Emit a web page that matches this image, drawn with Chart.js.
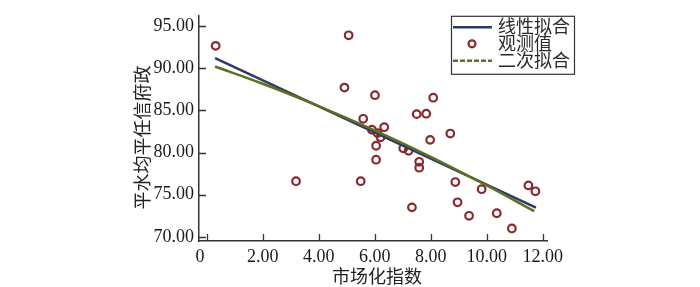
<!DOCTYPE html>
<html><head><meta charset="utf-8">
<script src="https://cdn.jsdelivr.net/npm/chart.js@4/dist/chart.umd.min.js"></script>
<style>html,body{margin:0;padding:0;background:#fff}</style>
</head><body>
<canvas id="c" width="700" height="287"></canvas>
<script>
// observed points (市场化指数, 平水均平任信府政)
const obsX = [0.32, 5.07, 4.92, 6.01, 5.59, 5.90, 6.10, 6.21, 6.34, 6.05, 6.05, 3.19, 5.50, 7.02, 7.21, 7.59, 7.59, 7.33, 7.98, 7.50, 7.84, 8.09, 8.70, 8.88, 9.82, 8.96, 9.37, 10.36, 10.90, 11.49, 11.74];
const obsY = [92.65, 93.90, 87.70, 86.80, 84.00, 82.70, 82.30, 81.80, 83.00, 80.80, 79.15, 76.60, 76.60, 80.50, 80.20, 78.90, 78.20, 73.50, 81.50, 84.55, 84.60, 86.50, 82.25, 76.50, 75.65, 74.10, 72.50, 72.80, 71.00, 76.10, 75.40];
// linear fit line (read endpoints)
const linX = [0.30, 11.76];
const linY = [91.20, 73.47];
// quadratic fit curve (read points)
const quadX = [0.30, 2.0, 4.0, 6.0, 8.0, 10.0, 11.70];
const quadY = [90.20, 88.15, 85.51, 82.62, 79.49, 76.10, 73.05];
// axes
const xTickVals = [0, 2, 4, 6, 8, 10, 12];
const xTickLabels = ['0   ', '2.00', '4.00', '6.00', '8.00', '10.00', '12.00'];
const yTickVals = [70, 75, 80, 85, 90, 95];
const yTickLabels = ['70.00', '75.00', '80.00', '85.00', '90.00', '95.00'];
const seriesNames = ['线性拟合', '观测值', '二次拟合'];
const xTitle = '  市场化指数';
const yTitle = '平水均平任信府政\u3000';

const zip = (xs, ys) => xs.map((x, i) => ({x, y: ys[i]}));
const navy = '#2c3a66', olive = '#5d7020', red = '#8a2a2e', axisCol = '#333';
const cjk = "'Noto Sans CJK SC', sans-serif";
const serif = "'Liberation Serif', serif";

const innerTicks = {
  id: 'innerTicks',
  afterDraw(chart) {
    const {ctx, scales: {x, y}, chartArea: a} = chart;
    ctx.save();
    ctx.strokeStyle = axisCol; ctx.lineWidth = 1.3;
    ctx.beginPath();
    xTickVals.forEach(v => { const p = Math.round(x.getPixelForValue(v)) + 0.5; ctx.moveTo(p, a.bottom); ctx.lineTo(p, a.bottom - 7); });
    yTickVals.forEach(v => { const p = Math.round(y.getPixelForValue(v)) + 0.5; ctx.moveTo(a.left, p); ctx.lineTo(a.left + 7, p); });
    ctx.stroke();
    ctx.restore();
  }
};

const boxLegend = {
  id: 'boxLegend',
  afterDraw(chart) {
    const {ctx, chartArea: a} = chart;
    const ds = chart.data.datasets;
    const L = a.right - 96, T = a.top, W = 123, H = 58;
    ctx.save();
    ctx.fillStyle = '#fff'; ctx.fillRect(L, T, W, H);
    ctx.strokeStyle = axisCol; ctx.lineWidth = 1.2; ctx.strokeRect(L + 0.5, T + 0.5, W, H);
    const rows = [T + 11.5, T + 28, T + 45];
    // row 1: linear
    ctx.strokeStyle = ds[0].borderColor; ctx.lineWidth = 2.5;
    ctx.beginPath(); ctx.moveTo(L + 2, rows[0]); ctx.lineTo(L + 41, rows[0]); ctx.stroke();
    // row 2: marker
    ctx.strokeStyle = ds[1].borderColor; ctx.lineWidth = 2.2;
    ctx.beginPath(); ctx.arc(L + 21, rows[1], 3.5, 0, Math.PI * 2); ctx.stroke();
    // row 3: dashed
    ctx.strokeStyle = ds[2].borderColor; ctx.lineWidth = 2.5; ctx.setLineDash([5, 2]);
    ctx.beginPath(); ctx.moveTo(L + 2, rows[2]); ctx.lineTo(L + 41, rows[2]); ctx.stroke();
    ctx.setLineDash([]);
    ctx.fillStyle = '#2a2a2a'; ctx.font = '18px ' + cjk; ctx.textBaseline = 'middle'; ctx.textAlign = 'left';
    ds.forEach((d, i) => ctx.fillText(d.label, L + 47, rows[i] - 1));
    ctx.restore();
  }
};

new Chart(document.getElementById('c'), {
  type: 'scatter',
  data: {
    datasets: [
      {label: seriesNames[0], data: zip(linX, linY), showLine: true, borderColor: navy, borderWidth: 2.5, pointRadius: 0, order: 2},
      {label: seriesNames[1], data: zip(obsX, obsY), showLine: false, borderColor: red, backgroundColor: 'rgba(255,255,255,0)', pointRadius: 3.8, pointBorderWidth: 2.2, pointStyle: 'circle', order: 3},
      {label: seriesNames[2], data: zip(quadX, quadY), showLine: true, borderColor: olive, borderWidth: 2.5, pointRadius: 0, tension: 0.35, order: 1}
    ]
  },
  options: {
    responsive: false, animation: false, devicePixelRatio: 1,
    layout: {padding: {top: 14, right: 153, left: 0, bottom: 0}},
    plugins: {legend: {display: false}, tooltip: {enabled: false}},
    scales: {
      x: {
        type: 'linear', position: 'bottom', min: -0.275, max: 12.154,
        afterFit: s => { s.height = 46; },
        afterBuildTicks: s => { s.ticks = xTickVals.map(v => ({value: v})); },
        grid: {display: false, drawTicks: false},
        border: {display: true, color: axisCol, width: 1.5},
        ticks: {autoSkip: false, maxRotation: 0, padding: 5, color: '#1a1a1a', font: {family: serif, size: 18},
          callback: (v, i) => xTickLabels[i]},
        title: {display: true, text: xTitle, color: '#222', font: {family: cjk, size: 18}, padding: {top: 0, bottom: 0}}
      },
      y: {
        type: 'linear', position: 'left', min: 69.51, max: 96.21,
        afterFit: s => { s.width = 199; },
        afterBuildTicks: s => { s.ticks = yTickVals.map(v => ({value: v})); },
        grid: {display: false, drawTicks: false},
        border: {display: true, color: axisCol, width: 1.5},
        ticks: {autoSkip: false, padding: 5, color: '#1a1a1a', font: {family: serif, size: 18},
          callback: (v, i) => yTickLabels[i]},
        title: {display: true, text: yTitle, color: '#222', font: {family: cjk, size: 18}, padding: {top: 131, bottom: 0}}
      }
    }
  },
  plugins: [innerTicks, boxLegend]
});
</script>
</body></html>
